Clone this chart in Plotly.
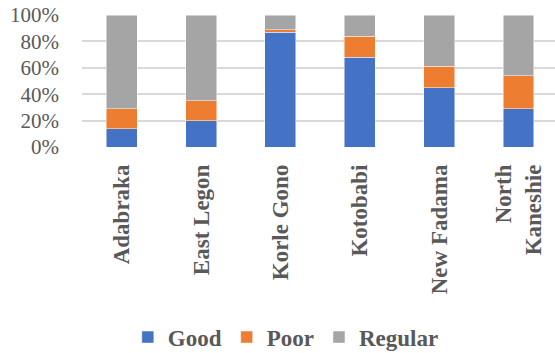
import plotly.graph_objects as go

# Neighbourhood categories and share of each rating (%)
areas = ["Adabraka", "East Legon", "Korle Gono", "Kotobabi", "New Fadama", "North<br>Kaneshie"]
good = [14, 20, 87, 68, 45, 29]
poor = [15, 15, 2, 16, 16, 25]
regular = [71, 65, 11, 16, 39, 46]

y_ticks = [0, 20, 40, 60, 80, 100]
y_tick_text = ["0%", "20%", "40%", "60%", "80%", "100%"]

series = [
    ("Good", good, "#4472C4"),
    ("Poor", poor, "#ED7D31"),
    ("Regular", regular, "#A5A5A5"),
]

fig = go.Figure()
for name, vals, color in series:
    fig.add_trace(go.Bar(
        name=name, x=areas, y=vals,
        marker=dict(color=color, line=dict(color="rgba(255,255,255,0.6)", width=0.8)),
    ))

serif = "Liberation Serif, Times New Roman, serif"
fig.update_layout(
    width=555, height=353,
    barmode="stack", bargap=0.61,
    margin=dict(l=82, r=0, t=15, b=206),
    plot_bgcolor="white", paper_bgcolor="white",
    font=dict(family=serif, color="#595959"),
    xaxis=dict(
        tickangle=-90, showgrid=False, showline=False, zeroline=False,
        tickfont=dict(family=serif, size=23, color="#595959", weight="bold"),
        ticklabelstandoff=12, range=[-0.5, 5.46],
    ),
    yaxis=dict(
        range=[0, 100], tickvals=y_ticks, ticktext=y_tick_text,
        showgrid=True, gridcolor="#D9D9D9", gridwidth=1.5,
        zeroline=False, showline=False,
        tickfont=dict(family=serif, size=21, color="#595959"),
        ticklabelstandoff=22,
    ),
    legend=dict(
        orientation="h", yref="container", y=0.045, yanchor="middle",
        xref="container", x=0.515, xanchor="center",
        font=dict(family=serif, size=23, color="#595959", weight="bold"),
        itemwidth=30, traceorder="normal",
    ),
    showlegend=True,
)

fig.write_html("out.html")
